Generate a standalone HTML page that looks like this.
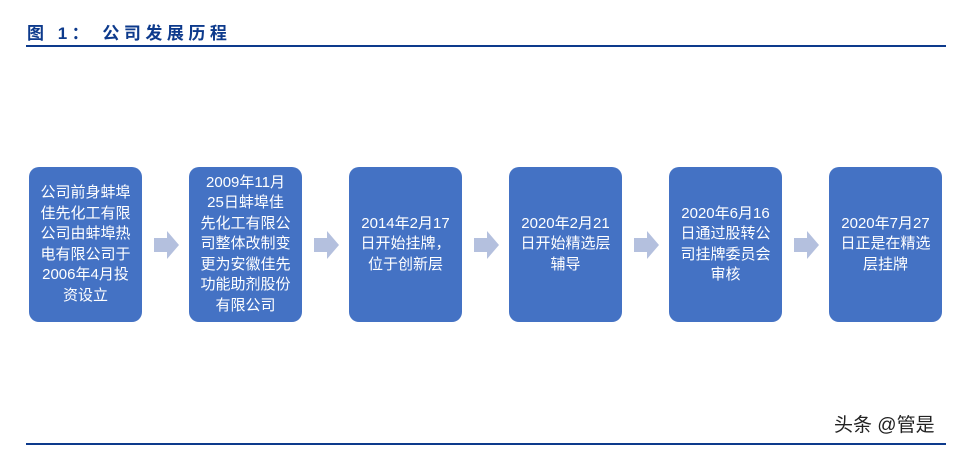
<!DOCTYPE html>
<html><head><meta charset="utf-8"><style>
body{margin:0;width:978px;height:449px;background:#fff;position:relative;overflow:hidden;font-family:"Liberation Sans","Noto Sans CJK SC",sans-serif}
.t{position:absolute;left:27px;top:19px;font-size:17px;font-weight:bold;color:#0d3a8c;letter-spacing:4.5px;font-family:"Liberation Sans","Noto Sans CJK SC",sans-serif}
.l{position:absolute;left:26px;width:920px;height:2px;background:#0d3a8c}
.b{position:absolute;top:167px;width:113px;height:155px;background:#4472c4;border-radius:10px;color:#fff;font-size:15px;line-height:20.5px;text-align:center;display:flex;align-items:center;justify-content:center}
.w{position:absolute;left:834px;top:410px;font-size:19px;color:#222}
</style></head><body>
<div class="t">图 1： 公司发展历程</div>
<div class="l" style="top:45px"></div>
<div class="l" style="top:443px;height:1.5px"></div>
<div class="b" style="left:29px">公司前身蚌埠<br>佳先化工有限<br>公司由蚌埠热<br>电有限公司于<br>2006年4月投<br>资设立</div>
<div class="b" style="left:189px">2009年11月<br>25日蚌埠佳<br>先化工有限公<br>司整体改制变<br>更为安徽佳先<br>功能助剂股份<br>有限公司</div>
<div class="b" style="left:349px">2014年2月17<br>日开始挂牌，<br>位于创新层</div>
<div class="b" style="left:509px">2020年2月21<br>日开始精选层<br>辅导</div>
<div class="b" style="left:669px">2020年6月16<br>日通过股转公<br>司挂牌委员会<br>审核</div>
<div class="b" style="left:829px">2020年7月27<br>日正是在精选<br>层挂牌</div>
<svg style="position:absolute;left:0;top:0" width="978" height="449">
<g fill="#b4c0de">
<polygon points="154,238 167,238 167,231 179,245 167,259 167,252 154,252"/>
<polygon points="314,238 327,238 327,231 339,245 327,259 327,252 314,252"/>
<polygon points="474,238 487,238 487,231 499,245 487,259 487,252 474,252"/>
<polygon points="634,238 647,238 647,231 659,245 647,259 647,252 634,252"/>
<polygon points="794,238 807,238 807,231 819,245 807,259 807,252 794,252"/>
</g></svg>
<div class="w">头条 @管是</div>
</body></html>
